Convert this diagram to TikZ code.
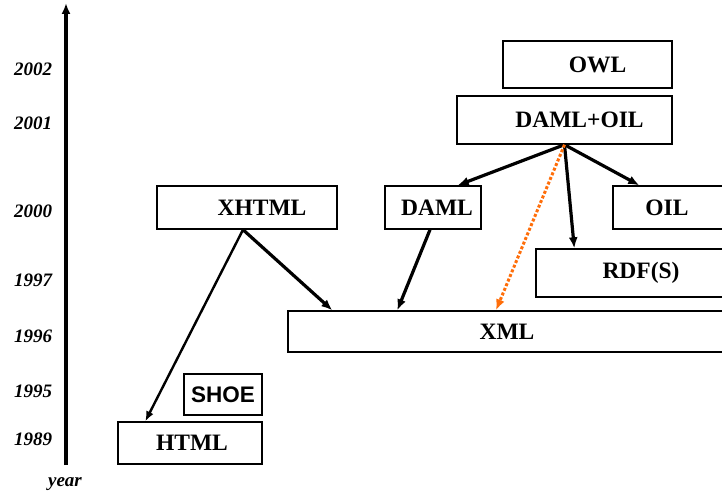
\documentclass[tikz,border=0pt]{standalone}
\usepackage{fontspec}
\setmainfont{Liberation Serif}
\setsansfont{Liberation Sans}
\usetikzlibrary{arrows.meta}
\definecolor{dotorange}{RGB}{255,110,10}

\begin{document}
\begin{tikzpicture}[
    x=1pt, y=-1pt,
    box/.style = {shape=rectangle, draw, line width=1.4pt, inner sep=0pt,
      font=\fontsize{23.5}{25}\selectfont\bfseries},
    year/.style = {font=\fontsize{19}{21}\selectfont\bfseries\itshape},
    link/.style = {-{Latex[length=11pt,width=9pt]}, line width=3.2pt},
    thinlink/.style = {-{Latex[length=10pt,width=8pt]}, line width=2.4pt},
    dotlink/.style = {-{Latex[length=11pt,width=9pt]}, dotorange,
      line width=3pt, dotted},
    ]
  \clip (0,0) rectangle (722,492);

  % time axis
  \coordinate (axisbottom) at (66,465);
  \coordinate (axistop) at (66,3);
  \draw[-{Latex[length=11pt,width=9pt]}, line width=4.4pt] (axisbottom) -- (axistop);
  \node[year] (y2002) at (33,69) {2002};
  \node[year] (y2001) at (33,123) {2001};
  \node[year] (y2000) at (33,211) {2000};
  \node[year] (y1997) at (33,280) {1997};
  \node[year] (y1996) at (33,336) {1996};
  \node[year] (y1995) at (33,391) {1995};
  \node[year] (y1989) at (33,439) {1989};
  \node[year] (yr) at (65,484) {year};

  % languages
  \node[box, minimum width=169pt, minimum height=47pt] (owl) at (587.5,64.5) {\hspace{20pt}OWL};
  \node[box, minimum width=215pt, minimum height=48pt] (damloil) at (564.5,120) {\hspace{30pt}DAML+OIL};
  \node[box, minimum width=180pt, minimum height=43pt] (xhtml) at (247,207.5) {\hspace{30pt}XHTML};
  \node[box, minimum width=96pt, minimum height=43pt] (daml) at (433,207.5) {\hspace{8pt}DAML};
  \node[box, minimum width=114pt, minimum height=43pt] (oil) at (670,207.5) {\hspace{-6pt}OIL};
  \node[box, minimum width=190pt, minimum height=48pt] (rdfs) at (631,273) {\hspace{20pt}RDF(S)};
  \node[box, minimum width=438pt, minimum height=41pt] (xml) at (507,331.5) {XML};
  \node[box, minimum width=78pt, minimum height=41pt,
    font=\fontsize{22.5}{24}\selectfont\sffamily\bfseries] (shoe) at (223,394.5) {SHOE};
  \node[box, minimum width=144pt, minimum height=42pt] (html) at (190,443) {\hspace{4pt}HTML};

  % derivations
  \draw[thinlink] (xhtml.south) ++(-4,0) -- ([xshift=28pt]html.north west);
  \draw[link] (xhtml.south) ++(-4,0) -- ([xshift=45pt]xml.north west);
  \draw[link] (daml.south) ++(-3,0) -- ([xshift=110pt]xml.north west);
  \draw[link] (damloil.south) -- ([xshift=-24pt]daml.north east);
  \draw[link] (damloil.south) -- ([xshift=27pt]oil.north west);
  \draw[link] (damloil.south) -- ([xshift=39pt]rdfs.north west);
  \draw[dotlink] (damloil.south) -- ([xshift=-11pt]xml.north);
\end{tikzpicture}
\end{document}
